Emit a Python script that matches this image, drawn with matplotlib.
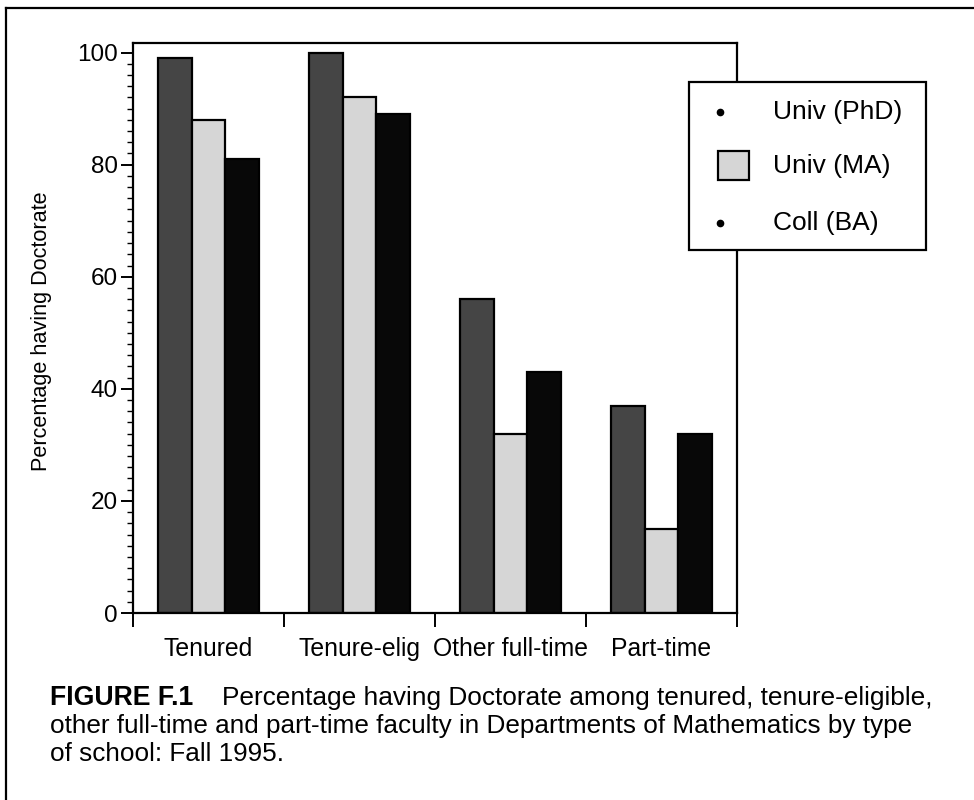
import matplotlib
matplotlib.use("Agg")
import matplotlib.pyplot as plt
import numpy as np
from matplotlib.lines import Line2D
from matplotlib.patches import Rectangle

plt.rcParams['font.family'] = ['Liberation Sans', 'DejaVu Sans']

categories = ["Tenured", "Tenure-elig", "Other full-time", "Part-time"]
series_names = ["Univ (PhD)", "Univ (MA)", "Coll (BA)"]
univ_phd = [99, 100, 56, 37]
univ_ma = [88, 92, 32, 15]
coll_ba = [81, 89, 43, 32]
y_ticks = [0, 20, 40, 60, 80, 100]
caption_bold = "FIGURE F.1"
caption_lines = ["Percentage having Doctorate among tenured, tenure-eligible,",
                 "other full-time and part-time faculty in Departments of Mathematics by type",
                 "of school: Fall 1995."]

colors = ["#454545", "#d6d6d6", "#080808"]
W, H = 974, 800
fig = plt.figure(figsize=(W / 100, H / 100), dpi=100)
ax = fig.add_axes([133 / W, 1 - 613 / H, (737 - 133) / W, (613 - 43) / H])

x = np.arange(len(categories))
bw = 0.225
for i, (vals, c) in enumerate(zip([univ_phd, univ_ma, coll_ba], colors)):
    ax.bar(x + (i - 1) * bw, vals, width=bw, color=c, edgecolor="black", linewidth=1.6, zorder=2)

ax.set_xlim(-0.5, 3.5)
ax.set_ylim(0, 101.7)
ax.set_yticks(y_ticks)
ax.set_yticklabels([str(v) for v in y_ticks], fontsize=17.5)
ax.set_yticks(np.arange(0, 101, 2), minor=True)
ax.tick_params(axis="y", which="major", length=9, width=1.4, direction="out", pad=2)
ax.tick_params(axis="y", which="minor", length=4, width=1.0, direction="out")

ax.set_xticks(np.arange(-0.5, 3.6, 1.0))
ax.set_xticklabels([])
ax.set_xticks(x, minor=True)
ax.set_xticklabels(categories, minor=True, fontsize=17.8)
ax.tick_params(axis="x", which="major", length=10, width=1.4, direction="out")
ax.tick_params(axis="x", which="minor", length=0, pad=17)

for s in ax.spines.values():
    s.set_linewidth(1.6)

ax.set_ylabel("Percentage having Doctorate", fontsize=15.6, va="center")
ax.yaxis.set_label_coords((42 - 133) / (737 - 133), (613 - 331) / (613 - 43))


def fx(px):
    return px / W


def fy(py):
    return 1 - py / H


# legend (framed box with keys and labels)
fig.add_artist(Rectangle((fx(689), fy(250)), fx(926) - fx(689), fy(82) - fy(250),
                         facecolor="white", edgecolor="black", linewidth=1.6,
                         transform=fig.transFigure, zorder=5))
row_y = [112, 166, 223]
for k, (name, ry) in enumerate(zip(series_names, row_y)):
    if k == 1:
        fig.add_artist(Rectangle((fx(718), fy(ry + 14)), fx(749) - fx(718), fy(ry - 15) - fy(ry + 14),
                                 facecolor=colors[1], edgecolor="black", linewidth=1.6,
                                 transform=fig.transFigure, zorder=6))
    else:
        fig.add_artist(Line2D([fx(720)], [fy(ry)], marker="o", ms=4.5, color="black", ls="none",
                              transform=fig.transFigure, zorder=6))
    fig.text(fx(773), fy(ry), name, fontsize=19, va="center", ha="left", zorder=7)

# outer frame
fig.add_artist(Line2D([fx(6), fx(6)], [0, fy(8)], color="black", lw=1.6, transform=fig.transFigure))
fig.add_artist(Line2D([fx(6), 1], [fy(8), fy(8)], color="black", lw=1.6, transform=fig.transFigure))

# caption
fig.text(fx(50), fy(698), caption_bold, fontsize=19.2, fontweight="bold", va="center")
fig.text(fx(222), fy(698), caption_lines[0], fontsize=18.9, va="center")
fig.text(fx(50), fy(726), caption_lines[1], fontsize=18.8, va="center")
fig.text(fx(50), fy(754), caption_lines[2], fontsize=18.8, va="center")

fig.savefig("out.png", dpi=100)
